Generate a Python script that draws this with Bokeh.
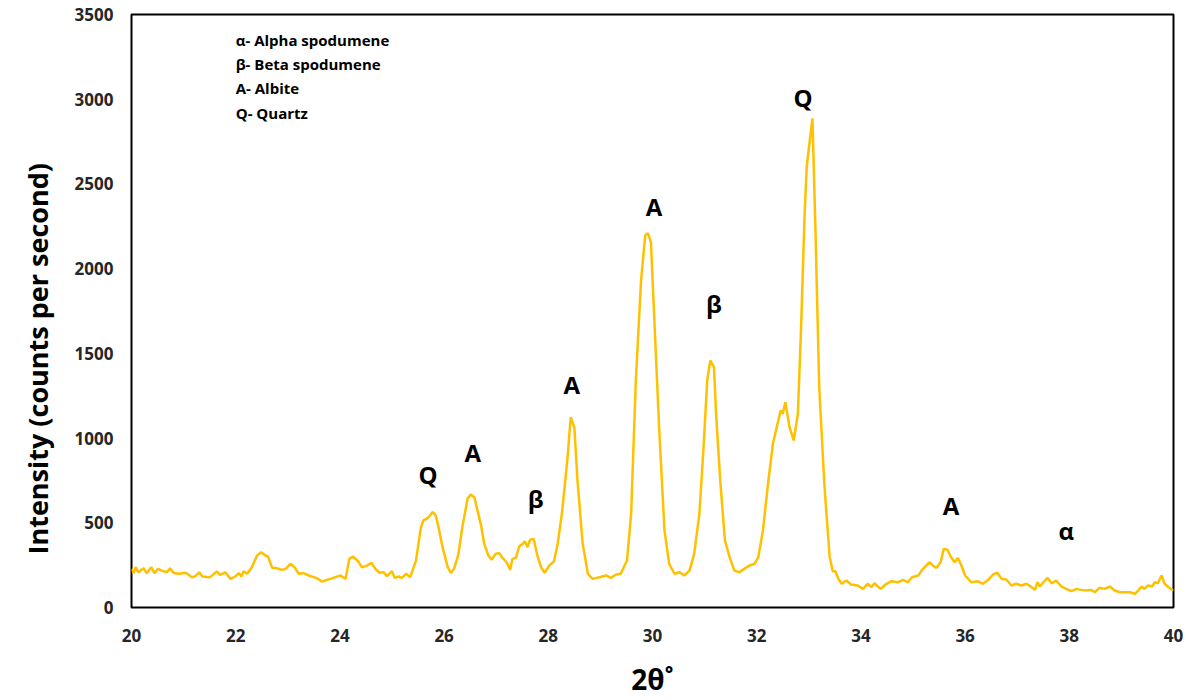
from bokeh.plotting import figure
from bokeh.embed import file_html
from bokeh.resources import INLINE
from bokeh.core.properties import value
from bokeh.models import FixedTicker, Title

# ---- data ----
two_theta = [
    20.00, 20.04, 20.08, 20.13, 20.23, 20.29, 20.38, 20.44, 20.51, 20.58, 20.68, 20.74, 20.81, 20.90,
    21.04, 21.16, 21.22, 21.30, 21.36, 21.51, 21.64, 21.70, 21.80, 21.90, 21.99, 22.06, 22.11, 22.15,
    22.22, 22.31, 22.41, 22.49, 22.57, 22.62, 22.70, 22.79, 22.89, 22.96, 23.05, 23.13, 23.21, 23.30,
    23.40, 23.50, 23.56, 23.66, 23.73, 23.82, 23.91, 24.01, 24.11, 24.18, 24.25, 24.35, 24.42, 24.50,
    24.61, 24.68, 24.76, 24.84, 24.90, 25.00, 25.05, 25.13, 25.19, 25.27, 25.35, 25.46, 25.55, 25.60,
    25.67, 25.71, 25.78, 25.84, 25.90, 25.97, 26.07, 26.13, 26.19, 26.27, 26.35, 26.45, 26.51, 26.58,
    26.64, 26.71, 26.77, 26.85, 26.91, 26.99, 27.06, 27.12, 27.20, 27.27, 27.31, 27.38, 27.44, 27.51,
    27.55, 27.60, 27.65, 27.72, 27.79, 27.86, 27.93, 28.02, 28.11, 28.18, 28.26, 28.32, 28.37, 28.43,
    28.50, 28.56, 28.66, 28.76, 28.85, 28.98, 29.11, 29.20, 29.30, 29.39, 29.51, 29.59, 29.68, 29.78,
    29.86, 29.91, 29.97, 30.03, 30.13, 30.23, 30.32, 30.42, 30.52, 30.61, 30.71, 30.80, 30.90, 30.98,
    31.05, 31.11, 31.18, 31.22, 31.30, 31.39, 31.48, 31.57, 31.67, 31.76, 31.86, 31.96, 32.03, 32.12,
    32.21, 32.31, 32.37, 32.46, 32.50, 32.55, 32.63, 32.71, 32.79, 32.85, 32.92, 32.96, 33.02, 33.07,
    33.13, 33.20, 33.30, 33.40, 33.46, 33.51, 33.57, 33.63, 33.72, 33.81, 33.94, 34.04, 34.13, 34.20,
    34.26, 34.38, 34.49, 34.58, 34.71, 34.81, 34.90, 34.98, 35.10, 35.19, 35.32, 35.38, 35.45, 35.53,
    35.59, 35.66, 35.73, 35.80, 35.86, 35.93, 36.00, 36.12, 36.25, 36.34, 36.44, 36.54, 36.62, 36.70,
    36.79, 36.89, 36.98, 37.08, 37.18, 37.26, 37.34, 37.39, 37.43, 37.50, 37.58, 37.66, 37.75, 37.85,
    37.94, 38.04, 38.14, 38.23, 38.33, 38.42, 38.49, 38.58, 38.68, 38.78, 38.87, 38.97, 39.06, 39.16,
    39.26, 39.32, 39.39, 39.44, 39.51, 39.59, 39.64, 39.70, 39.77, 39.83, 39.92, 40.00,
]
intensity = [
    228, 203, 238, 208, 232, 203, 238, 203, 228, 218, 208, 232, 203, 199,
    205, 179, 183, 208, 183, 179, 213, 193, 208, 169, 183, 203, 183, 214,
    199, 238, 307, 326, 307, 301, 234, 232, 222, 228, 258, 238, 199, 203,
    189, 179, 173, 153, 161, 169, 179, 189, 169, 287, 301, 273, 238, 244,
    264, 228, 205, 208, 185, 214, 175, 183, 175, 199, 179, 277, 464, 514,
    524, 537, 563, 543, 464, 356, 238, 203, 228, 307, 474, 642, 667, 651,
    573, 484, 376, 307, 282, 317, 321, 293, 267, 222, 287, 293, 360, 376,
    391, 356, 400, 405, 307, 238, 205, 248, 273, 376, 553, 730, 887, 1123,
    1064, 750, 376, 199, 169, 179, 189, 175, 195, 199, 277, 553, 1340, 1930,
    2196, 2210, 2157, 1734, 1045, 455, 258, 199, 208, 189, 218, 317, 553, 946,
    1340, 1458, 1418, 1143, 750, 396, 297, 218, 208, 228, 248, 258, 297, 455,
    710, 966, 1045, 1163, 1143, 1212, 1064, 986, 1143, 1635, 2324, 2600, 2760, 2887,
    2200, 1300, 720, 300, 214, 214, 169, 140, 159, 136, 130, 110, 140, 120,
    143, 110, 140, 155, 149, 163, 149, 179, 189, 228, 267, 248, 234, 267,
    346, 341, 297, 267, 293, 248, 189, 149, 155, 140, 163, 195, 205, 169,
    165, 130, 140, 130, 140, 124, 104, 149, 124, 149, 175, 143, 159, 124,
    110, 96, 110, 104, 100, 104, 90, 116, 110, 124, 100, 90, 90, 90,
    81, 100, 124, 110, 130, 124, 149, 143, 189, 140, 116, 100,
]

peak_labels = ["Q", "A", "β", "A", "A", "β", "Q", "A", "α"]
peak_x = [25.69, 26.55, 27.76, 28.45, 30.03, 31.18, 32.89, 35.73, 37.94]
peak_y = [785, 915, 643, 1316, 2367, 1795, 3011, 602, 455]

key_lines = ["α- Alpha spodumene", "β- Beta spodumene", "A- Albite", "Q- Quartz"]
key_x = [22.0, 22.0, 22.0, 22.0]
key_y = [3347, 3205, 3064, 2916]

x_ticks = [20, 22, 24, 26, 28, 30, 32, 34, 36, 38, 40]
y_ticks = [0, 500, 1000, 1500, 2000, 2500, 3000, 3500]

x_title = "2θ˚"
y_title = "Intensity (counts per second)"

FONT = "Open Sans"

p = figure(width=1189, height=700, x_range=(20, 40), y_range=(0, 3500),
           output_backend="svg", toolbar_location=None,
           min_border_left=131, min_border_right=16, min_border_top=14, min_border_bottom=93)

p.background_fill_color = "white"
p.border_fill_color = "white"
p.grid.visible = False
p.outline_line_color = "black"
p.outline_line_width = 2
p.outline_line_alpha = 1

p.line(two_theta, intensity, line_color="#FFC000", line_width=2.5)

p.text(x=peak_x, y=peak_y, text=peak_labels, text_align="center", text_baseline="middle",
       text_font=value(FONT), text_font_style="bold", text_font_size="24px", text_color="black")

p.text(x=key_x, y=key_y, text=key_lines, text_align="left", text_baseline="middle",
       text_font=value(FONT), text_font_style="bold", text_font_size="15px", text_color="black")

for ax in (p.xaxis[0], p.yaxis[0]):
    ax.axis_line_color = None
    ax.major_tick_line_color = None
    ax.minor_tick_line_color = None
    ax.major_tick_in = 0
    ax.major_tick_out = 0
    ax.minor_tick_in = 0
    ax.minor_tick_out = 0
    ax.major_label_text_font = FONT
    ax.major_label_text_font_style = "bold"
    ax.major_label_text_font_size = "17px"
    ax.major_label_text_color = "#262626"

p.xaxis.ticker = FixedTicker(ticks=x_ticks)
p.yaxis.ticker = FixedTicker(ticks=y_ticks)
p.xaxis.major_label_standoff = 21
p.yaxis.major_label_standoff = 18

p.xaxis.axis_label = x_title
p.xaxis.axis_label_standoff = 15
p.xaxis.axis_label_text_font = FONT
p.xaxis.axis_label_text_font_style = "bold"
p.xaxis.axis_label_text_font_size = "28px"
p.xaxis.axis_label_text_color = "black"

# y title as a side title so it can be offset along the axis like in the reference
p.add_layout(Title(text=y_title, align="left", vertical_align="top", offset=53, standoff=28,
                   text_font=FONT, text_font_style="bold", text_font_size="27px",
                   text_color="black"), "left")

open("out.html", "w").write(file_html(p, INLINE))
